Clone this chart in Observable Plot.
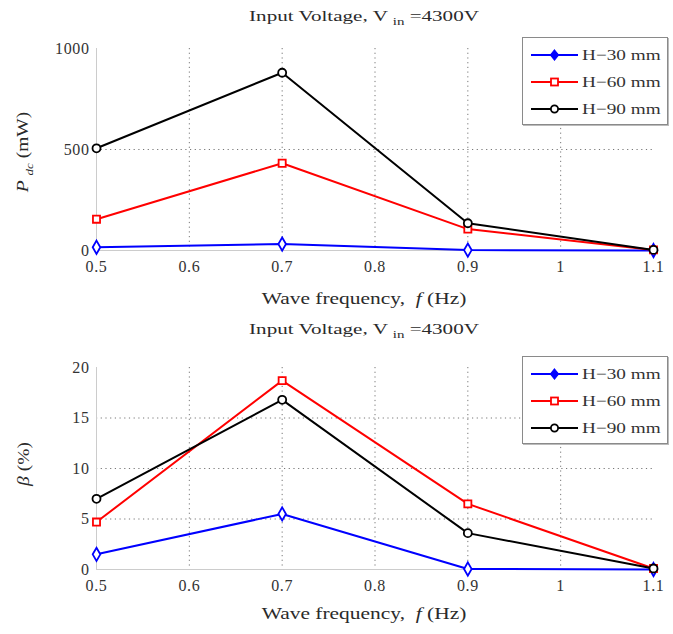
<!DOCTYPE html>
<html>
<head>
<meta charset="utf-8">
<script src="https://cdn.jsdelivr.net/npm/d3@7"></script>
<script src="https://cdn.jsdelivr.net/npm/@observablehq/plot@0.6"></script>
<style>
  html, body { margin: 0; padding: 0; background: #fff; }
  #wrap { position: relative; width: 673px; height: 634px; font-family: "Liberation Serif", "DejaVu Serif", serif; color: #2a2a2a; }
  .abs { position: absolute; }
  .title { font-size: 15.5px; white-space: nowrap; transform: translate(-50%, -50%) scaleX(1.36); }
  .xlab { font-size: 16.5px; white-space: nowrap; transform: translate(-50%, -50%) scaleX(1.3); }
  .ylab { font-size: 16.5px; white-space: nowrap; transform: translate(-50%, -50%) rotate(-90deg) scaleX(1.18); }
  .legend { background: #fff; border: 1px solid #8a8a8a; box-shadow: 1px 1px 0 #bbb; }
  .legend .row { position: absolute; left: 0; height: 20px; width: 145px; }
  .legend .row span { position: absolute; left: 59px; top: 0; font-size: 15px; line-height: 20px; transform: scaleX(1.28); transform-origin: left center; color: #333; }
  sub { font-size: 11px; }
</style>
</head>
<body>
<div id="wrap"></div>
<script>
// ---- data ----
const freqs = [0.5, 0.7, 0.9, 1.1];
const seriesNames = ["H\u221230 mm", "H\u221260 mm", "H\u221290 mm"];
const seriesColors = ["#0000ff", "#ff0000", "#000000"];
const seriesSymbols = ["diamond", "square", "circle"];
// P_dc (mW)
const pdcH30 = [16, 32, 2, 0];
const pdcH60 = [155, 432, 106, 3];
const pdcH90 = [506, 880, 135, 3];
// beta (%)
const betaH30 = [1.5, 5.5, 0.05, 0];
const betaH60 = [4.7, 18.7, 6.5, 0.1];
const betaH90 = [7.0, 16.8, 3.6, 0.1];
// ticks
const xTicks = [0.5, 0.6, 0.7, 0.8, 0.9, 1.0, 1.1];
const yTicksTop = [0, 500, 1000];
const yTicksBottom = [0, 5, 10, 15, 20];

function rows(arrs) {
  const out = [];
  arrs.forEach((arr, si) => arr.forEach((v, i) => out.push({x: freqs[i], y: v, s: seriesNames[si]})));
  return out;
}

const wrap = document.getElementById("wrap");

function makePlot(data, yDomain, yTicks, top) {
  const interiorX = xTicks.slice(1, -1);
  const interiorY = yTicks.slice(1, -1);
  const chart = Plot.plot({
    width: 673, height: 317,
    marginLeft: 96, marginRight: 20, marginTop: 48, marginBottom: 67,
    style: {fontFamily: '"Liberation Serif", "DejaVu Serif", serif', fontSize: "16px", color: "#333", background: "transparent", letterSpacing: "0.6px"},
    x: {domain: [0.5, 1.1]},
    y: {domain: yDomain},
    color: {domain: seriesNames, range: seriesColors},
    symbol: {domain: seriesNames, range: seriesSymbols},
    marks: [
      Plot.ruleX(interiorX, {stroke: "#777", strokeDasharray: "1.2,3.5", strokeWidth: 1}),
      Plot.ruleY(interiorY, {stroke: "#777", strokeDasharray: "1.2,3.5", strokeWidth: 1}),
      Plot.ruleX([0.5], {stroke: "#ccc"}),
      Plot.ruleY([yDomain[0]], {stroke: "#ccc"}),
      Plot.axisX({ticks: xTicks, tickSize: 0, tickPadding: 10, tickFormat: d => d3.format("~g")(d), label: null, fontSize: 16}),
      Plot.axisY({ticks: yTicks, tickSize: 0, tickPadding: 7, tickFormat: d => String(d), label: null, fontSize: 16}),
      Plot.line(data, {x: "x", y: "y", z: "s", stroke: "s", strokeWidth: 2}),
      Plot.dot(data, {x: "x", y: "y", stroke: "s", symbol: "s", r: 4, strokeWidth: 1.8, fill: "white"})
    ]
  });
  chart.style.position = "absolute";
  chart.style.left = "0px";
  chart.style.top = top + "px";
  wrap.appendChild(chart);
}

makePlot(rows([pdcH30, pdcH60, pdcH90]), [0, 1000], yTicksTop, 0);
makePlot(rows([betaH30, betaH60, betaH90]), [0, 20], yTicksBottom, 319);

function addHTML(html, cls, left, top) {
  const d = document.createElement("div");
  d.className = "abs " + cls;
  d.style.left = left + "px";
  d.style.top = top + "px";
  d.innerHTML = html;
  wrap.appendChild(d);
  return d;
}

const titleHTML = 'Input Voltage, V <sub>in</sub> =4300V';
addHTML(titleHTML, "title", 364, 17);
addHTML(titleHTML, "title", 364, 330);
const xlabHTML = 'Wave frequency,&nbsp; <i>f</i> (Hz)';
addHTML(xlabHTML, "xlab", 364, 299);
addHTML(xlabHTML, "xlab", 364, 614);
addHTML('<i>P</i> <sub><i>dc</i></sub> (mW)', "ylab", 24, 152);
addHTML('<i>\u03b2</i> (%)', "ylab", 24, 464);

function legend(top) {
  const box = addHTML("", "legend", 522, top);
  box.style.width = "144px";
  box.style.height = "86px";
  seriesNames.forEach((name, i) => {
    const row = document.createElement("div");
    row.className = "row";
    row.style.top = (7 + i * 27) + "px";
    const sym = seriesSymbols[i];
    const c = seriesColors[i];
    let marker;
    if (sym === "diamond") marker = `<path d="M31.5,5 L35.5,10 L31.5,15 L27.5,10 Z" fill="${c}" stroke="${c}" stroke-width="1.2"/>`;
    else if (sym === "square") marker = `<rect x="28" y="6.5" width="7" height="7" fill="white" stroke="${c}" stroke-width="1.8"/>`;
    else marker = `<circle cx="31.5" cy="10" r="3.6" fill="white" stroke="${c}" stroke-width="1.8"/>`;
    row.innerHTML = `<svg width="56" height="20" style="position:absolute;left:0;top:0">
      <line x1="8" y1="10" x2="55" y2="10" stroke="${c}" stroke-width="2"/>${marker}</svg><span>${name}</span>`;
    box.appendChild(row);
  });
}
legend(37);
legend(356);
</script>
</body>
</html>
